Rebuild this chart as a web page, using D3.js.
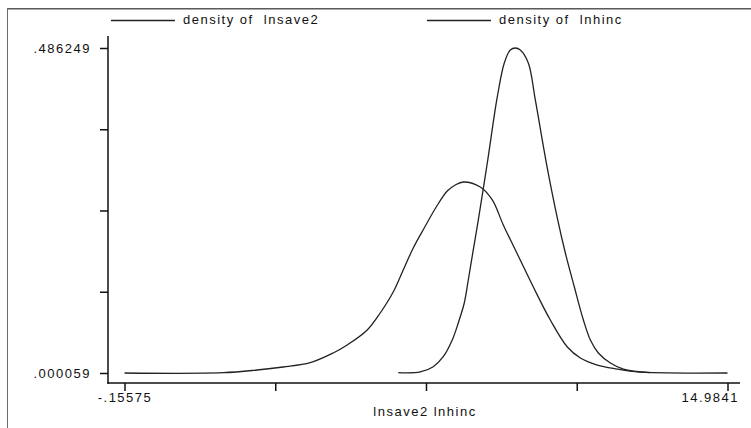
<!DOCTYPE html>
<html>
<head>
<meta charset="utf-8">
<script src="https://cdn.jsdelivr.net/npm/d3@7"></script>
<style>
  html, body { margin: 0; padding: 0; background: #fff; }
  svg { display: block; }
  text { font-family: "Liberation Sans", Arial, sans-serif; font-size: 13px; letter-spacing: 1.5px; fill: #111; }
</style>
</head>
<body>
<svg id="chart" width="751" height="428"></svg>
<script>
// ---- data ----
const seriesNames = ["density of  lnsave2", "density of  lnhinc"];
const xTitle = "lnsave2 lnhinc";
const xDomain = [-0.15575, 14.9841];
const yDomain = [0.000059, 0.486249];
const xTickLabels = ["-.15575", "", "", "", "14.9841"];
const yTickLabels = [".000059", "", "", "", ".486249"];

const lnsave2X = [-0.15575, 2.320, 3.174, 3.827, 4.506, 5.083, 5.435, 5.938, 6.264, 6.591, 6.842, 7.094, 7.370, 7.671, 7.948, 8.149, 8.350, 8.777, 9.079, 9.355, 9.732, 10.109, 10.536, 10.963, 11.290, 11.717, 12.220, 12.722, 14.9841];
const lnsave2Y = [0.000059, 0.00051, 0.00455, 0.00904, 0.01547, 0.02998, 0.04195, 0.06439, 0.08982, 0.12124, 0.15415, 0.1871, 0.2170, 0.2484, 0.2723, 0.2813, 0.2858, 0.2783, 0.2589, 0.2215, 0.1751, 0.1287, 0.0793, 0.0390, 0.0225, 0.0120, 0.0060, 0.0016, 0.000059];

const lnhincX = [6.717, 7.269, 7.596, 7.847, 8.073, 8.224, 8.375, 8.476, 8.601, 8.727, 8.953, 9.204, 9.380, 9.531, 9.657, 9.782, 9.983, 10.159, 10.436, 10.712, 10.913, 11.139, 11.366, 11.541, 11.742, 12.044, 12.370, 13.049];
const lnhincY = [0.0005, 0.0016, 0.0095, 0.0244, 0.0494, 0.0749, 0.1048, 0.1392, 0.1841, 0.2289, 0.3142, 0.4130, 0.4638, 0.4833, 0.486249, 0.4833, 0.4638, 0.4085, 0.3142, 0.2319, 0.1796, 0.1287, 0.0793, 0.0494, 0.0300, 0.0150, 0.0060, 0.0005];

// ---- layout ----
const svg = d3.select("#chart");
const axisX = 108, axisY = 383;
const x = d3.scaleLinear().domain(xDomain).range([124.5, 727.5]);
const y = d3.scaleLinear().domain(yDomain).range([373, 48]);

// frame
svg.append("line").attr("x1", 7).attr("x2", 751).attr("y1", 8.5).attr("y2", 8.5).attr("stroke", "#5a5a5a").attr("stroke-width", 1);
svg.append("line").attr("x1", 7).attr("x2", 751).attr("y1", 9.5).attr("y2", 9.5).attr("stroke", "#a8a8a8").attr("stroke-width", 1);
svg.append("line").attr("x1", 7.5).attr("x2", 7.5).attr("y1", 8).attr("y2", 428).attr("stroke", "#6a6a6a").attr("stroke-width", 1);

// axes
const xTicks = d3.range(5).map(i => xDomain[0] + i * (xDomain[1] - xDomain[0]) / 4);
const yTicks = d3.range(5).map(i => yDomain[0] + i * (yDomain[1] - yDomain[0]) / 4);

const gx = svg.append("g").attr("transform", `translate(0,${axisY})`)
  .call(d3.axisBottom(x).tickValues(xTicks).tickSize(8).tickSizeOuter(0)
    .tickFormat((d, i) => xTickLabels[i]));
gx.select(".domain").remove();
gx.selectAll(".tick line").attr("stroke", "#111").attr("stroke-width", 1.5);
gx.selectAll(".tick text").attr("dy", null).attr("y", 19).attr("font-size", null)
  .attr("font-family", null).attr("fill", "#111");
gx.selectAll(".tick text").filter((d, i) => i === 4).attr("text-anchor", "end").attr("dx", 11);

const gy = svg.append("g").attr("transform", `translate(${axisX},0)`)
  .call(d3.axisLeft(y).tickValues(yTicks).tickSize(8).tickSizeOuter(0)
    .tickFormat((d, i) => yTickLabels[i]));
gy.select(".domain").remove();
gy.selectAll(".tick line").attr("stroke", "#111").attr("stroke-width", 1.5);
gy.selectAll(".tick text").attr("x", -17).attr("font-size", null).attr("font-family", null).attr("fill", "#111");

svg.append("line").attr("x1", axisX).attr("x2", axisX).attr("y1", 36).attr("y2", axisY + 0.75)
  .attr("stroke", "#111").attr("stroke-width", 1.5);
svg.append("line").attr("x1", axisX - 0.75).attr("x2", 740).attr("y1", axisY).attr("y2", axisY)
  .attr("stroke", "#111").attr("stroke-width", 1.5);

// x title
svg.append("text").attr("x", 425).attr("y", 416).attr("text-anchor", "middle").text(xTitle);

// curves
const line = d3.line().x(d => x(d[0])).y(d => y(d[1])).curve(d3.curveCatmullRom.alpha(0.5));
const s1 = lnsave2X.map((v, i) => [v, lnsave2Y[i]]);
const s2 = lnhincX.map((v, i) => [v, lnhincY[i]]);
[s1, s2].forEach(s => {
  svg.append("path").datum(s).attr("d", line).attr("fill", "none")
    .attr("stroke", "#222").attr("stroke-width", 1.3);
});

// legend
const legendX = [111, 427];
seriesNames.forEach((name, i) => {
  svg.append("line").attr("x1", legendX[i]).attr("x2", legendX[i] + 64)
    .attr("y1", 20.5).attr("y2", 20.5).attr("stroke", "#222").attr("stroke-width", 1.3);
  svg.append("text").attr("x", legendX[i] + 72).attr("y", 24)
    .attr("xml:space", "preserve").style("white-space", "pre").text(name);
});
</script>
</body>
</html>
